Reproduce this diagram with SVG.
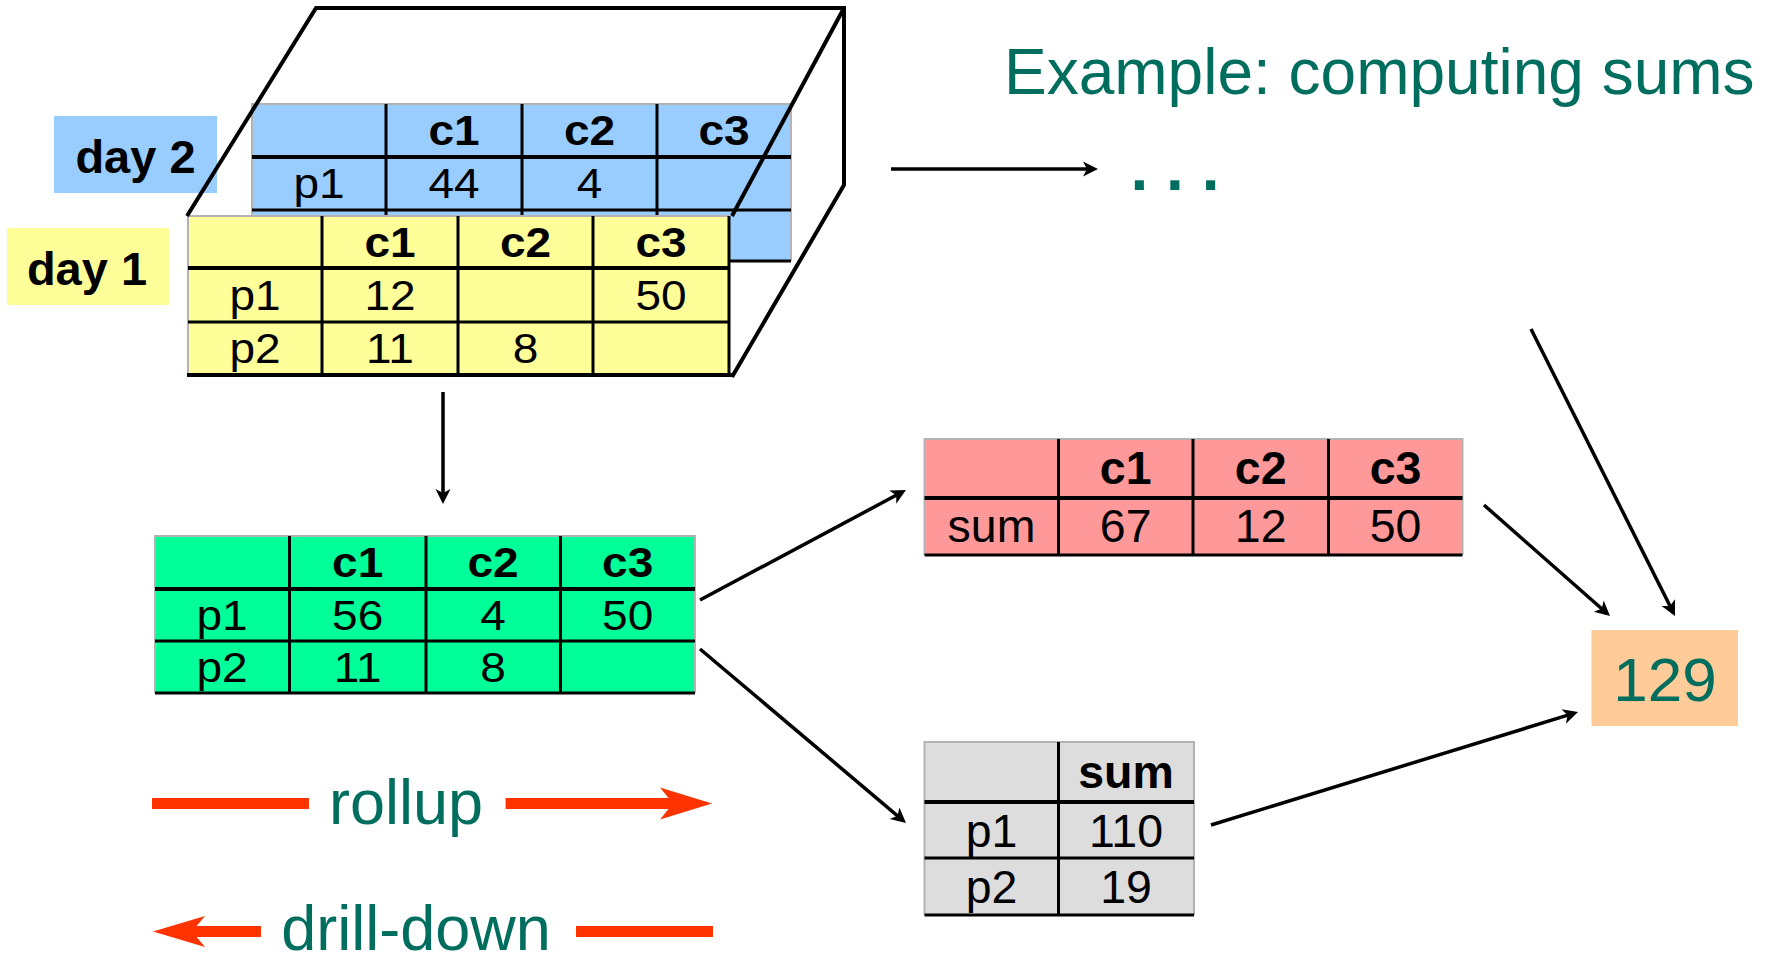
<svg xmlns="http://www.w3.org/2000/svg" width="1773" height="956" viewBox="0 0 1773 956">
<style>
  .t { font-family: "Liberation Sans", Arial, sans-serif; text-anchor: middle; fill: #000; }
  .h { font-weight: bold; }
  .f43 { font-size: 43px; }
  .sx { transform-box: fill-box; transform-origin: center; transform: scaleX(1.07); }
  .f46 { font-size: 46.5px; }
  .teal { font-family: "Liberation Sans", Arial, sans-serif; fill: #006e5f; }
  .edge { fill: none; stroke: #b3b3b3; stroke-width: 2; }
  .thick { fill: none; stroke: #000; stroke-width: 4; }
  .thin { fill: none; stroke: #000; stroke-width: 3; }
  .cube { fill: none; stroke: #000; stroke-width: 4; stroke-linejoin: miter; }
  .conn { fill: none; stroke: #000; stroke-width: 3.5; marker-end: url(#ah); }
  .red { fill: #ff3300; }
  .lbl { font-family: "Liberation Sans", Arial, sans-serif; font-weight: bold; font-size: 47px; text-anchor: middle; fill: #000; }
</style>
<defs>
  <marker id="ah" viewBox="-8 -8 17 16" markerWidth="17" markerHeight="16" refX="0" refY="0" orient="auto" markerUnits="userSpaceOnUse">
    <path d="M8,0 L-7,-7.5 L-3,0 L-7,7.5 Z" fill="#000"/>
  </marker>
</defs>
<rect width="1773" height="956" fill="#fff"/>

<!-- Day 2 table (back) -->
<g id="day2-table">
  <rect x="252" y="104" width="539" height="157" fill="#99ccff"/>
  <path class="edge" d="M252,261 V104 H791 V261"/>
  <path class="thick" d="M252,157 H791"/>
  <path class="thin" d="M252,210 H791 M252,261 H791 M386,104 V261 M522,104 V261 M657,104 V261"/>
  <text class="t h f43 sx" x="454" y="145">c1</text>
  <text class="t h f43 sx" x="589.5" y="145">c2</text>
  <text class="t h f43 sx" x="724" y="145">c3</text>
  <text class="t f43 sx" x="319" y="198.5">p1</text>
  <text class="t f43 sx" x="454" y="198.5">44</text>
  <text class="t f43 sx" x="589.5" y="198.5">4</text>
</g>

<g id="day2-label">
  <rect x="54" y="116" width="163" height="77" fill="#99ccff"/>
  <text class="lbl" x="135.5" y="173">day 2</text>
</g>

<!-- Day 1 table (front) -->
<g id="day1-table">
  <rect x="188" y="216" width="541" height="159" fill="#ffff99"/>
  <path class="edge" d="M188,375 V216 H729"/>
  <path class="thick" d="M188,268 H729"/>
  <path class="thin" d="M188,322 H729 M322,216 V375 M458,216 V375 M593,216 V375 M729,216 V375"/>
  <text class="t h f43 sx" x="390" y="257">c1</text>
  <text class="t h f43 sx" x="525.5" y="257">c2</text>
  <text class="t h f43 sx" x="661" y="257">c3</text>
  <text class="t f43 sx" x="255" y="310">p1</text>
  <text class="t f43 sx" x="390" y="310">12</text>
  <text class="t f43 sx" x="661" y="310">50</text>
  <text class="t f43 sx" x="255" y="363.5">p2</text>
  <text class="t f43 sx" x="390" y="363.5">11</text>
  <text class="t f43 sx" x="525.5" y="363.5">8</text>
</g>

<g id="day1-label">
  <rect x="7" y="228" width="162" height="77" fill="#ffff99"/>
  <text class="lbl" x="87" y="285">day 1</text>
</g>

<!-- Cube outline -->
<g id="cube">
  <path class="cube" d="M187,216 L316,8 L844,8 L844,185 L732,377"/>
  <path class="cube" d="M844,8 L732,216"/>
  <path class="cube" d="M187,375 H733"/>
</g>

<!-- Aggregated table -->
<g id="result-table">
  <rect x="155" y="536" width="540" height="157" fill="#00ff99"/>
  <path class="edge" d="M155,693 V536 H695 V693"/>
  <path class="thick" d="M155,589 H695"/>
  <path class="thin" d="M155,641 H695 M155,693 H695 M289.5,536 V693 M426,536 V693 M560.5,536 V693"/>
  <text class="t h f43 sx" x="357.7" y="577.5">c1</text>
  <text class="t h f43 sx" x="493" y="577.5">c2</text>
  <text class="t h f43 sx" x="627.7" y="577.5">c3</text>
  <text class="t f43 sx" x="222" y="630">p1</text>
  <text class="t f43 sx" x="357.7" y="630">56</text>
  <text class="t f43 sx" x="493" y="630">4</text>
  <text class="t f43 sx" x="627.7" y="630">50</text>
  <text class="t f43 sx" x="222" y="682">p2</text>
  <text class="t f43 sx" x="357.7" y="682">11</text>
  <text class="t f43 sx" x="493" y="682">8</text>
</g>

<!-- Sum by column -->
<g id="sum-by-c">
  <rect x="924.5" y="439" width="538" height="116" fill="#ff9999"/>
  <path class="edge" d="M924.5,555 V439 H1462.5 V555"/>
  <path class="thick" d="M924.5,498 H1462.5"/>
  <path class="thin" d="M924.5,555 H1462.5 M1058.5,439 V555 M1193,439 V555 M1328.5,439 V555"/>
  <text class="t h f46" x="1125.7" y="484">c1</text>
  <text class="t h f46" x="1260.7" y="484">c2</text>
  <text class="t h f46" x="1395.5" y="484">c3</text>
  <text class="t f46" x="991.5" y="541.5">sum</text>
  <text class="t f46" x="1125.7" y="541.5">67</text>
  <text class="t f46" x="1260.7" y="541.5">12</text>
  <text class="t f46" x="1395.5" y="541.5">50</text>
</g>

<!-- Sum by row -->
<g id="sum-by-p">
  <rect x="924.5" y="742" width="269.5" height="173" fill="#dddddd"/>
  <path class="edge" d="M924.5,915 V742 H1194 V915"/>
  <path class="thick" d="M924.5,802 H1194"/>
  <path class="thin" d="M924.5,858 H1194 M924.5,915 H1194 M1058.5,742 V915"/>
  <text class="t h f46" x="1126" y="788">sum</text>
  <text class="t f46" x="991.5" y="847">p1</text>
  <text class="t f46" x="1126" y="847">110</text>
  <text class="t f46" x="991.5" y="903">p2</text>
  <text class="t f46" x="1126" y="903">19</text>
</g>

<!-- Grand total -->
<g id="total">
  <rect x="1591.5" y="630" width="146.5" height="96" fill="#ffcc99"/>
  <text class="teal" x="1665" y="701" font-size="62" text-anchor="middle">129</text>
</g>

<g id="title">
  <text class="teal" x="1004" y="94" font-size="64">Example: computing sums</text>
</g>

<g id="ellipsis">
  <text class="teal" x="1130.5" y="190" font-size="64" font-weight="bold">. . .</text>
</g>

<!-- Connectors -->
<g id="connectors">
  <line class="conn" x1="891" y1="169" x2="1090" y2="169"/>
  <line class="conn" x1="443" y1="392" x2="443" y2="496"/>
  <line class="conn" x1="700" y1="600" x2="898.9" y2="493.8"/>
  <line class="conn" x1="700" y1="649" x2="899.9" y2="817.8"/>
  <line class="conn" x1="1484" y1="505" x2="1604" y2="610.7"/>
  <line class="conn" x1="1531" y1="329" x2="1671.4" y2="608.8"/>
  <line class="conn" x1="1211" y1="825" x2="1570.4" y2="714.4"/>
</g>

<!-- Legend: rollup / drill-down -->
<g id="rollup">
  <rect class="red" x="152" y="798" width="157" height="11"/>
  <rect class="red" x="505.6" y="798" width="170" height="11"/>
  <polygon class="red" points="712,803.5 660,787.5 673,803.5 660,819.5"/>
  <text class="teal" x="406" y="824" font-size="63" text-anchor="middle">rollup</text>
</g>
<g id="drill-down">
  <polygon class="red" points="153,931.5 205,916 192,931.5 205,947"/>
  <rect class="red" x="190" y="926" width="71" height="11"/>
  <rect class="red" x="576" y="926" width="137" height="11"/>
  <text class="teal" x="416" y="950" font-size="63" text-anchor="middle">drill-down</text>
</g>
</svg>
